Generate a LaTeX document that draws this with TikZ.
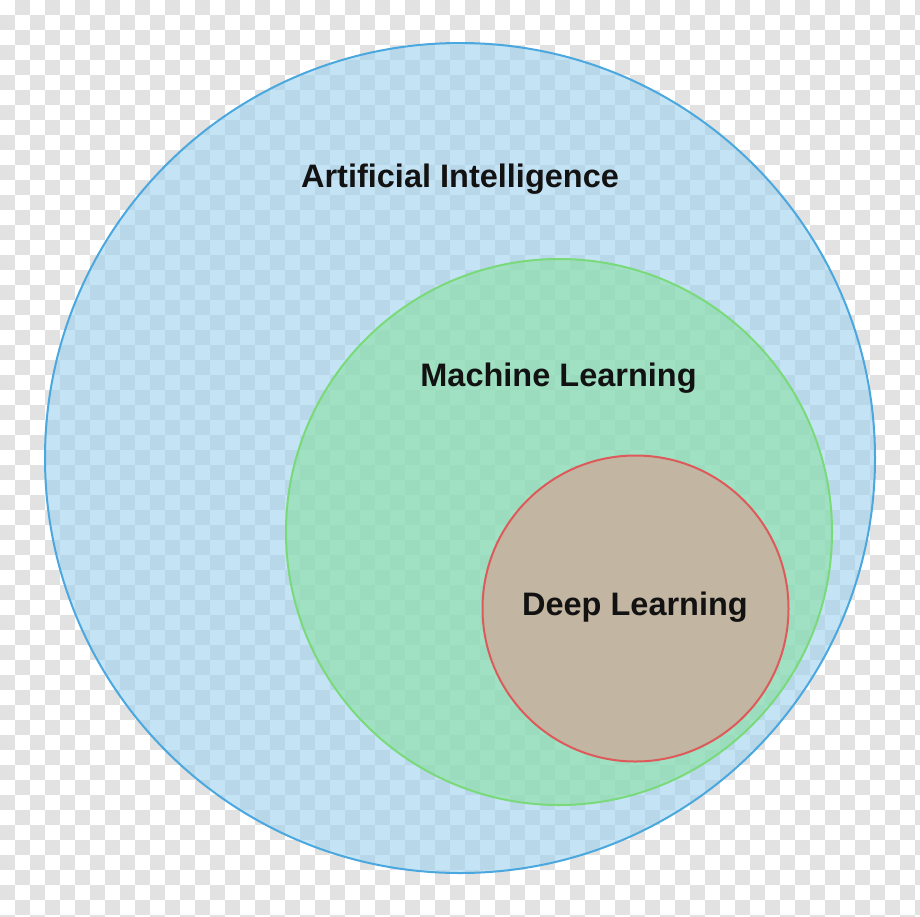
\documentclass[tikz,border=0pt]{standalone}
\usepackage{fontspec}
\setmainfont{Liberation Sans}
\definecolor{chk}{RGB}{226,226,226}
\definecolor{aifill}{RGB}{157,210,240}
\definecolor{ailine}{RGB}{74,168,222}
\definecolor{mlfill}{RGB}{136,223,161}
\definecolor{mlline}{RGB}{122,218,122}
\definecolor{dlfill}{RGB}{194,181,161}
\definecolor{dlline}{RGB}{222,90,90}
\begin{document}
\begin{tikzpicture}[x=1pt,y=-1pt,
  ring/.style={circle,inner sep=0pt,line width=2pt},
  lbl/.style={font=\fontsize{32.5}{36}\selectfont\bfseries,text=black!93,inner sep=0pt,anchor=base}]
\useasboundingbox (0,0) rectangle (920,916);
\fill[white] (0,0) rectangle (920,916);
\foreach \i in {0,...,61}{
  \foreach \j in {0,...,61}{
    \pgfmathtruncatemacro\odd{mod(\i+\j,2)}
    \ifnum\odd=1
      \fill[chk] (\i*15,\j*15) rectangle ++(15,15);
    \fi
  }
}
\node[ring,draw=ailine,fill=aifill,fill opacity=0.6,draw opacity=1,minimum size=830pt] (ai) at (460,458) {};
\node[ring,draw=mlline,fill=mlfill,fill opacity=0.6,draw opacity=1,minimum size=546pt] (ml) at (559,532) {};
\node[ring,draw=dlline,fill=dlfill,minimum size=306pt] (dl) at (635.5,608.5) {};
\node[lbl] (tai) at (460,187) {Artificial Intelligence};
\node[lbl] (tml) at (558.5,386.5) {Machine Learning};
\node[lbl] (tdl) at (635,615.5) {Deep Learning};
\end{tikzpicture}
\end{document}
